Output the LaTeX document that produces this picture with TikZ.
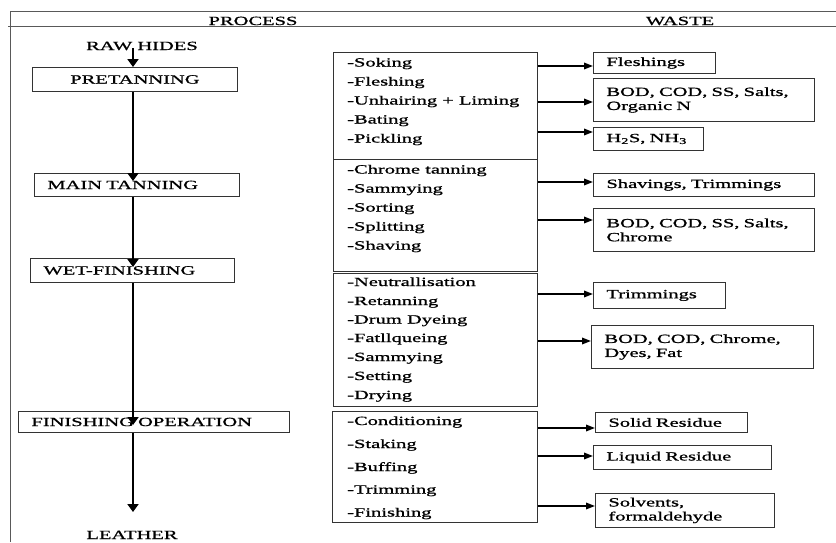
\documentclass[tikz,border=0pt]{standalone}
\usepackage{fontspec}
\setmainfont{Liberation Serif}[FakeStretch=1.64,FakeBold=1]
\usetikzlibrary{arrows.meta,calc}
\begin{document}
\begin{tikzpicture}[x=1pt,y=-1pt,
  txt/.style={font=\fontsize{12.5}{14}\selectfont, inner sep=0pt},
  bx/.style={draw=black!80, line width=0.9pt, anchor=north west, inner ysep=0pt, txt},
  lbox/.style={bx, inner xsep=13pt, align=left},
  frame/.style={draw=black!65, line width=0.9pt},
  mainarr/.style={line width=2.6pt, -{Triangle[width=11pt,length=8pt]}},
  sarr/.style={line width=1.7pt, -{Triangle[width=6.5pt,length=9pt]}}
]
\useasboundingbox (0,0) rectangle (836,542);
% frame
\draw[frame] (10,542) -- (10,11) -- (836,11);
\draw[frame] (8,26) -- (836,26);
\node[txt, anchor=base] (hproc) at (253,25) {PROCESS};
\node[txt, anchor=base] (hwaste) at (680,25) {WASTE};

% process column
\node[txt, anchor=base] (raw) at (142,50) {RAW HIDES};
\node[bx, minimum width=205pt, minimum height=24pt] (pre) at (32,67) {PRETANNING};
\node[lbox, text width=179pt, minimum height=23pt] (main) at (34,173) {MAIN TANNING};
\node[lbox, text width=178pt, minimum height=24pt] (wet) at (30,258) {WET-FINISHING};
\node[lbox, text width=245pt, minimum height=21pt] (fin) at (18,411) {FINISHING OPERATION};
\node[txt, anchor=base] (leather) at (132,539) {LEATHER};

\coordinate (ax) at (133,0);
\draw[mainarr] (ax |- 0,48) -- (ax |- pre.north);
\draw[mainarr] (ax |- pre.south) -- ($(ax |- main.north)+(0,8)$);
\draw[mainarr] (ax |- main.south) -- ($(ax |- wet.north)+(0,9)$);
\draw[mainarr] (ax |- wet.south) -- ($(ax |- fin.north)+(0,14)$);
\draw[mainarr] (ax |- fin.south) -- (ax |- 0,512);

% operation lists
\node[bx, minimum width=204pt, minimum height=107pt] (L1) at (333,52) {};
\node[bx, minimum width=204pt, minimum height=112pt] (L2) at (333,159) {};
\node[bx, minimum width=204pt, minimum height=133pt] (L3) at (333,273) {};
\node[bx, minimum width=205pt, minimum height=111pt] (L4) at (332,411) {};

\foreach \t/\y [count=\i] in {-Soking/66.5, -Fleshing/85.5, -Unhairing + Liming/104.5, -Bating/123.5, -Pickling/142.5}
  \node[txt, anchor=base west] (a\i) at (347,\y) {\t};
\foreach \t/\y [count=\i] in {-Chrome tanning/173.5, -Sammying/192.5, -Sorting/211.5, -Splitting/230.5, -Shaving/249.5}
  \node[txt, anchor=base west] (b\i) at (347,\y) {\t};
\foreach \t/\y [count=\i] in {-Neutrallisation/286, -Retanning/305, -Drum Dyeing/323.5, -Fatllqueing/342, -Sammying/361, -Setting/380, -Drying/399}
  \node[txt, anchor=base west] (c\i) at (347,\y) {\t};
\foreach \t/\y [count=\i] in {-Conditioning/425, -Staking/448, -Buffing/471, -Trimming/493.5, -Finishing/516.5}
  \node[txt, anchor=base west] (d\i) at (347,\y) {\t};

% waste boxes
\node[lbox, text width=96pt, minimum height=21pt] (w1) at (593,52) {Fleshings};
\node[lbox, text width=195pt, minimum height=43pt] (w2) at (593,78) {BOD, COD, SS, Salts,\\Organic N};
\node[lbox, text width=84pt, minimum height=23pt] (w3) at (593,127) {H\textsubscript{2}S, NH\textsubscript{3}};
\node[lbox, text width=195pt, minimum height=23pt] (w4) at (593,173) {Shavings, Trimmings};
\node[lbox, text width=195pt, minimum height=43pt] (w5) at (593,208) {BOD, COD, SS, Salts,\\Chrome};
\node[lbox, text width=106pt, minimum height=26pt] (w6) at (593,282) {Trimmings};
\node[lbox, text width=196pt, minimum height=43pt] (w7) at (591,325) {BOD, COD, Chrome,\\Dyes, Fat};
\node[lbox, text width=126pt, minimum height=20pt] (w8) at (595,412) {Solid Residue};
\node[lbox, text width=152pt, minimum height=24pt] (w9) at (593,445) {Liquid Residue};
\node[lbox, text width=153pt, minimum height=34pt] (w10) at (595,493) {Solvents,\\formaldehyde};

% waste arrows
\draw[sarr] (L1.east |- 0,66) -- (w1.west |- 0,66);
\draw[sarr] (L1.east |- 0,102) -- (w2.west |- 0,102);
\draw[sarr] (L1.east |- 0,132) -- (w3.west |- 0,132);
\draw[sarr] (L2.east |- 0,182) -- (w4.west |- 0,182);
\draw[sarr] (L2.east |- 0,220) -- (w5.west |- 0,220);
\draw[sarr] (L3.east |- 0,294) -- (w6.west |- 0,294);
\draw[sarr] (L3.east |- 0,341) -- (w7.west |- 0,341);
\draw[sarr] (L4.east |- 0,428) -- (w8.west |- 0,428);
\draw[sarr] (L4.east |- 0,456) -- (w9.west |- 0,456);
\draw[sarr] (L4.east |- 0,506) -- (w10.west |- 0,506);
\end{tikzpicture}
\end{document}
